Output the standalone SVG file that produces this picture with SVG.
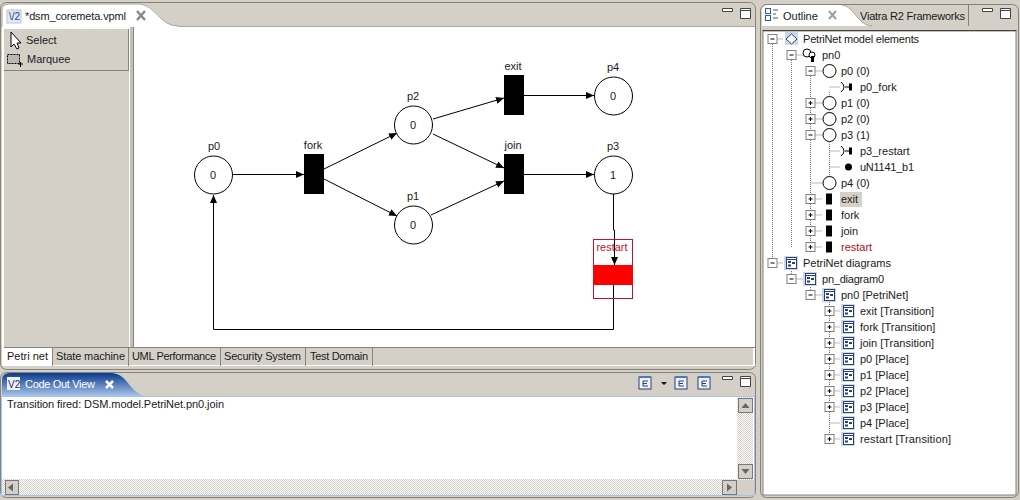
<svg xmlns="http://www.w3.org/2000/svg" width="1020" height="500" viewBox="0 0 1020 500">
<style>
text{font-family:"Liberation Sans",Arial,sans-serif;font-size:11px;fill:#1a1a1a}
.c{text-anchor:middle}
.place{fill:#fff;stroke:#000;stroke-width:1}
.tr{fill:#000}
.conn{fill:none;stroke:#000;stroke-width:1;marker-end:url(#arr)}
.dot{stroke:#777;stroke-width:1;stroke-dasharray:1 1;fill:none}
</style>
<defs>
<marker id="arr" markerUnits="userSpaceOnUse" markerWidth="9" markerHeight="8" refX="8" refY="4" orient="auto"><path d="M0 .5L8 4L0 7.500Z" fill="#000"/></marker>
<linearGradient id="blue" x1="0" y1="0" x2="0" y2="1"><stop offset="0" stop-color="#0a3a8c"/><stop offset="1" stop-color="#a9c4ea"/></linearGradient>
<pattern id="stip" width="2" height="2" patternUnits="userSpaceOnUse"><rect width="2" height="2" fill="#fff"/><rect width="1" height="1" fill="#d4d0c8"/><rect x="1" y="1" width="1" height="1" fill="#d4d0c8"/></pattern>
<g id="minus"><rect x="-4.500" y="-4.500" width="9" height="9" fill="#fff" stroke="#808080"/><path d="M-2 0H2" stroke="#000"/></g>
<g id="plus"><rect x="-4.500" y="-4.500" width="9" height="9" fill="#fff" stroke="#808080"/><path d="M-2 0H2M0-2V2" stroke="#000"/></g>
<g id="circ"><circle cx="0" cy="0" r="6.500" fill="#fff" stroke="#000"/></g>
<rect id="bar" x="-3" y="-5.500" width="6" height="11" fill="#000"/>
<g id="diag"><rect x="-7" y="-7" width="14" height="14" fill="#c9d8ee"/><rect x="-4.500" y="-5.500" width="10" height="11" fill="#fff" stroke="#2a3f75"/><path d="M-4-3.500H5" stroke="#2a3f75"/><rect x="-3" y="-2" width="3" height="2" fill="#2a3f75"/><rect x="1" y="-1" width="3" height="2" fill="#2a3f75"/><rect x="-3" y="1.500" width="3" height="2" fill="#2a3f75"/></g>
<g id="arc"><path d="M-5-5Q1 0-5 5M-1 0H3" fill="none" stroke="#000"/><rect x="3" y="-3.500" width="3" height="7" fill="#000"/></g>
<g id="ebtn"><rect x="-6" y="-6" width="12" height="12" fill="#eef3fa" stroke="#2a3f75"/><path d="M-6-6H6" stroke="#4a78c8" stroke-width="2"/><path d="M3-2H-2V3H3M-2 .500H2" fill="none" stroke="#2a3f75"/></g>
</defs>
<rect width="1020" height="500" fill="#d4d0c8"/>

<g id="editor-panel">
<rect x="0.500" y="2.500" width="755" height="367" rx="6" fill="#d4d0c8" stroke="#85837c"/>
<rect x="2" y="26" width="753" height="340" fill="#fff"/>
<path d="M178 26.500H755" stroke="#a9a7a0"/>
<path d="M2 27V10Q2 4 10 4H138C158 4 158 26 178 26H2Z" fill="#fff"/>
<path d="M2 27V10Q2 4 10 4H140C156 6 160 26 178 26" fill="none" stroke="#a9a7a0"/>
<rect x="7" y="10" width="14" height="13" fill="#dfe8f6" stroke="#b9c6dc"/>
<text x="9" y="20" style="font-size:10px;fill:#2a3f75">\/2</text>
<text x="25" y="20" textLength="101">*dsm_coremeta.vpml</text>
<path d="M137 11l8 9m0-9l-8 9" stroke="#8a8a80" stroke-width="2.500" fill="none"/>
<path d="M722.500 8.500H732.500V11.500H722.500ZM740.500 8.500H750.500V18.500H740.500ZM740.500 10.500H750.500" fill="#fff" stroke="#444"/>
<rect x="4" y="29" width="125" height="318" fill="#d4d0c8"/>
<path d="M4 70.500H128.500V29" stroke="#85837c" fill="none"/>
<rect x="129" y="29" width="1" height="318" fill="#fff"/>
<rect x="130" y="27" width="3" height="320" fill="#c4c1ba"/>
<path d="M133.500 27V347" stroke="#85837c"/>
<path d="M11 32V47L14 44L17 49L19 48L17 43H21Z" fill="#fff" stroke="#000"/>
<text x="26" y="44">Select</text>
<rect x="7.500" y="54.500" width="12" height="9" fill="#b8b8b4" stroke="#000" stroke-dasharray="2 1"/>
<path d="M18 64H23M20.500 62V67" stroke="#000"/>
<text x="27" y="63">Marquee</text>
<rect x="4" y="347" width="749" height="18" fill="#d4d0c8"/>
<path d="M4 347.500H755" stroke="#85837c"/>
<path d="M2 348H52V366H2Z" fill="#fff"/>
<path d="M52.500 348V366M128.500 348V366M220.500 348V366M305.500 348V366M372.500 348V366" stroke="#85837c"/>
<text x="7" y="360">Petri net</text>
<text x="56" y="360" textLength="69">State machine</text>
<text x="132" y="360" textLength="84">UML Performance</text>
<text x="224" y="360" textLength="77">Security System</text>
<text x="310" y="360" textLength="58">Test Domain</text>
</g>

<g id="connectors">
<path class="conn" d="M233 174.500H304"/>
<path class="conn" d="M324 169L397 133"/>
<path class="conn" d="M324 179L397 216"/>
<path class="conn" d="M433 119L504 98"/>
<path class="conn" d="M433 134L504 168"/>
<path class="conn" d="M431 215L504 181"/>
<path class="conn" d="M524 95.500H594"/>
<path class="conn" d="M524 174.500H594"/>
<path class="conn" d="M613.500 194V230H614.500V265"/>
<path class="conn" d="M613.500 285V329.500H213.500V195"/>
</g>

<g id="p0"><circle class="place" cx="213.500" cy="175" r="19"/><text class="c" x="214" y="150">p0</text><text class="c" x="213" y="179">0</text></g>
<g id="p1"><circle class="place" cx="413.500" cy="225" r="19"/><text class="c" x="413" y="200">p1</text><text class="c" x="413" y="229">0</text></g>
<g id="p2"><circle class="place" cx="413.500" cy="125" r="19"/><text class="c" x="413" y="100">p2</text><text class="c" x="413" y="129">0</text></g>
<g id="p3"><circle class="place" cx="613.500" cy="175" r="19"/><text class="c" x="613" y="150">p3</text><text class="c" x="613" y="179">1</text></g>
<g id="p4"><circle class="place" cx="613.500" cy="96" r="19"/><text class="c" x="613" y="71">p4</text><text class="c" x="613" y="100">0</text></g>
<g id="fork"><rect class="tr" x="304" y="154" width="20" height="40"/><text class="c" x="313" y="149">fork</text></g>
<g id="exit"><rect class="tr" x="504" y="75" width="20" height="40"/><text class="c" x="513" y="70">exit</text></g>
<g id="join"><rect class="tr" x="504" y="154" width="20" height="40"/><text class="c" x="513" y="149">join</text></g>
<g id="restart"><rect x="593.500" y="239.500" width="39" height="59" fill="none" stroke="#c8102e"/><rect x="593" y="265" width="40" height="20" fill="#f00"/><text class="c" x="612" y="251" style="fill:#c8102e">restart</text></g>

<g id="output-panel">
<rect x="0.500" y="372.500" width="755" height="125" rx="6" fill="#d4d0c8" stroke="#85837c"/>
<path d="M2 396V380Q2 373 10 373H112C128 374 130 394 146 396Z" fill="url(#blue)"/>
<rect x="1.500" y="396.500" width="753" height="99" fill="#fff" stroke="#a9c4ea"/>
<rect x="7" y="377" width="13" height="13" fill="#eef3fa"/>
<text x="8" y="388" style="font-size:10px;fill:#1a2a5a">V2</text>
<text x="25" y="388" textLength="70" style="fill:#fff">Code Out View</text>
<path d="M106 381l7 7m0-7l-7 7" stroke="#fff" stroke-width="2.500" fill="none"/>
<text x="7" y="408" textLength="217">Transition fired: DSM.model.PetriNet.pn0.join</text>
<rect x="737" y="397" width="16" height="83" fill="url(#stip)"/>
<rect x="2" y="479" width="735" height="16" fill="url(#stip)"/>
<rect x="737" y="480" width="17" height="15" fill="#d4d0c8"/>
<g fill="#d4d0c8" stroke="#777"><rect x="738.500" y="398.500" width="14" height="14"/><rect x="738.500" y="464.500" width="14" height="14"/><rect x="722.500" y="480.500" width="14" height="14"/><rect x="5.500" y="480.500" width="13" height="14"/></g>
<path d="M745.500 403L741.500 408H749.500ZM745.500 474L741.500 469H749.500ZM727 483.500L732 487.500L727 491.500ZM13 483.500L8 487.500L13 491.500Z" fill="#666"/>
<use href="#ebtn" x="645" y="383"/><path d="M661 382H667L664 385Z" fill="#000"/>
<use href="#ebtn" x="681" y="383"/><use href="#ebtn" x="704" y="383"/>
<path d="M722.500 376.500H732.500V379.500H722.500ZM740.500 376.500H750.500V386.500H740.500ZM740.500 378.500H750.500" fill="#fff" stroke="#444"/>
</g>

<g id="outline-panel">
<rect x="760.500" y="4.500" width="258" height="493" rx="6" fill="#d4d0c8" stroke="#85837c"/>
<path d="M762 27V10Q762 5 770 5H842C854 6 858 26 872 26H762Z" fill="#fff"/>
<path d="M842 5C854 6 858 26 872 26" fill="none" stroke="#a9a7a0"/>
<path d="M968.500 4V26" stroke="#85837c"/>
<rect x="763" y="31" width="253" height="464" fill="#fff" stroke="#85837c"/>
<path d="M762.500 30.500H1016.500" stroke="#444"/>
<rect x="765.500" y="8.500" width="5" height="5" fill="#fff" stroke="#2a5aa8"/><rect x="765.500" y="15.500" width="5" height="5" fill="#fff" stroke="#2a5aa8"/><path d="M773 10H778M773 14H776M773 18H778" stroke="#555"/>
<text x="783" y="20">Outline</text>
<path d="M829 11l7 8m0-8l-7 8" stroke="#a0a098" stroke-width="2" fill="none"/>
<text x="860" y="20" textLength="105">Viatra R2 Frameworks</text>
<path d="M982.500 8.500H992.500V11.500H982.500ZM1000.500 8.500H1010.500V18.500H1000.500ZM1000.500 10.500H1010.500" fill="#fff" stroke="#444"/>

<path class="dot" d="M772.500 44V263M791.500 60V247M810.500 76V247M829.500 92V116M829.500 140V180M772.500 39H783M791.500 55H803M810.500 71H822M810.500 103H822M810.500 119H822M810.500 135H822M810.500 183H822M810.500 199H822M810.500 215H822M810.500 231H822M810.500 247H822M829.500 87H840M829.500 151H840M829.500 167H840"/>
<path class="dot" d="M772.500 263H783M791.500 269V279M791.500 279H803M810.500 285V295M810.500 295H822M829.500 300V439M829.500 311H840M829.500 327H840M829.500 343H840M829.500 359H840M829.500 375H840M829.500 391H840M829.500 407H840M829.500 423H840M829.500 439H840"/>

<use href="#minus" x="772.500" y="39"/>
<rect x="785" y="32" width="13" height="13" fill="#c9d8ee"/><path d="M791.500 34L797 39L791.500 44L786 39Z" fill="#fff" stroke="#2a3f75"/>
<text x="803" y="43" textLength="116">PetriNet model elements</text>

<use href="#minus" x="791.500" y="55"/>
<circle cx="807" cy="53" r="4" fill="#fff" stroke="#000"/><circle cx="812" cy="55" r="3" fill="#fff" stroke="#000"/><rect x="811" y="56" width="3" height="6" fill="#000"/>
<text x="822" y="59">pn0</text>

<use href="#minus" x="810.500" y="71"/><use href="#circ" x="829.500" y="71"/><text x="841" y="75">p0 (0)</text>
<use href="#arc" x="846" y="87"/><text x="860" y="91">p0_fork</text>
<use href="#plus" x="810.500" y="103"/><use href="#circ" x="829.500" y="103"/><text x="841" y="107">p1 (0)</text>
<use href="#plus" x="810.500" y="119"/><use href="#circ" x="829.500" y="119"/><text x="841" y="123">p2 (0)</text>
<use href="#minus" x="810.500" y="135"/><use href="#circ" x="829.500" y="135"/><text x="841" y="139">p3 (1)</text>
<use href="#arc" x="846" y="151"/><text x="860" y="155">p3_restart</text>
<circle cx="848.500" cy="167" r="3.500" fill="#000"/><text x="860" y="171" textLength="54">uN1141_b1</text>
<use href="#circ" x="829.500" y="183"/><text x="841" y="187">p4 (0)</text>
<use href="#plus" x="810.500" y="199"/><use href="#bar" x="829" y="199"/><rect x="840" y="192" width="22" height="15" fill="#d4d0c8"/><text x="841" y="203">exit</text>
<use href="#plus" x="810.500" y="215"/><use href="#bar" x="829" y="215"/><text x="841" y="219">fork</text>
<use href="#plus" x="810.500" y="231"/><use href="#bar" x="829" y="231"/><text x="841" y="235">join</text>
<use href="#plus" x="810.500" y="247"/><use href="#bar" x="829" y="247"/><text x="841" y="251" style="fill:#b01020">restart</text>

<use href="#minus" x="772.500" y="263"/><use href="#diag" x="791" y="263"/><text x="803" y="267">PetriNet diagrams</text>
<use href="#minus" x="791.500" y="279"/><use href="#diag" x="810" y="279"/><text x="822" y="283" textLength="62">pn_diagram0</text>
<use href="#minus" x="810.500" y="295"/><use href="#diag" x="829" y="295"/><text x="841" y="299">pn0 [PetriNet]</text>
<use href="#plus" x="829.500" y="311"/><use href="#diag" x="848" y="311"/><text x="860" y="315">exit [Transition]</text>
<use href="#plus" x="829.500" y="327"/><use href="#diag" x="848" y="327"/><text x="860" y="331">fork [Transition]</text>
<use href="#plus" x="829.500" y="343"/><use href="#diag" x="848" y="343"/><text x="860" y="347">join [Transition]</text>
<use href="#plus" x="829.500" y="359"/><use href="#diag" x="848" y="359"/><text x="860" y="363">p0 [Place]</text>
<use href="#plus" x="829.500" y="375"/><use href="#diag" x="848" y="375"/><text x="860" y="379">p1 [Place]</text>
<use href="#plus" x="829.500" y="391"/><use href="#diag" x="848" y="391"/><text x="860" y="395">p2 [Place]</text>
<use href="#plus" x="829.500" y="407"/><use href="#diag" x="848" y="407"/><text x="860" y="411">p3 [Place]</text>
<use href="#diag" x="848" y="423"/><text x="860" y="427">p4 [Place]</text>
<use href="#plus" x="829.500" y="439"/><use href="#diag" x="848" y="439"/><text x="860" y="443" textLength="91">restart [Transition]</text>
</g>
</svg>
